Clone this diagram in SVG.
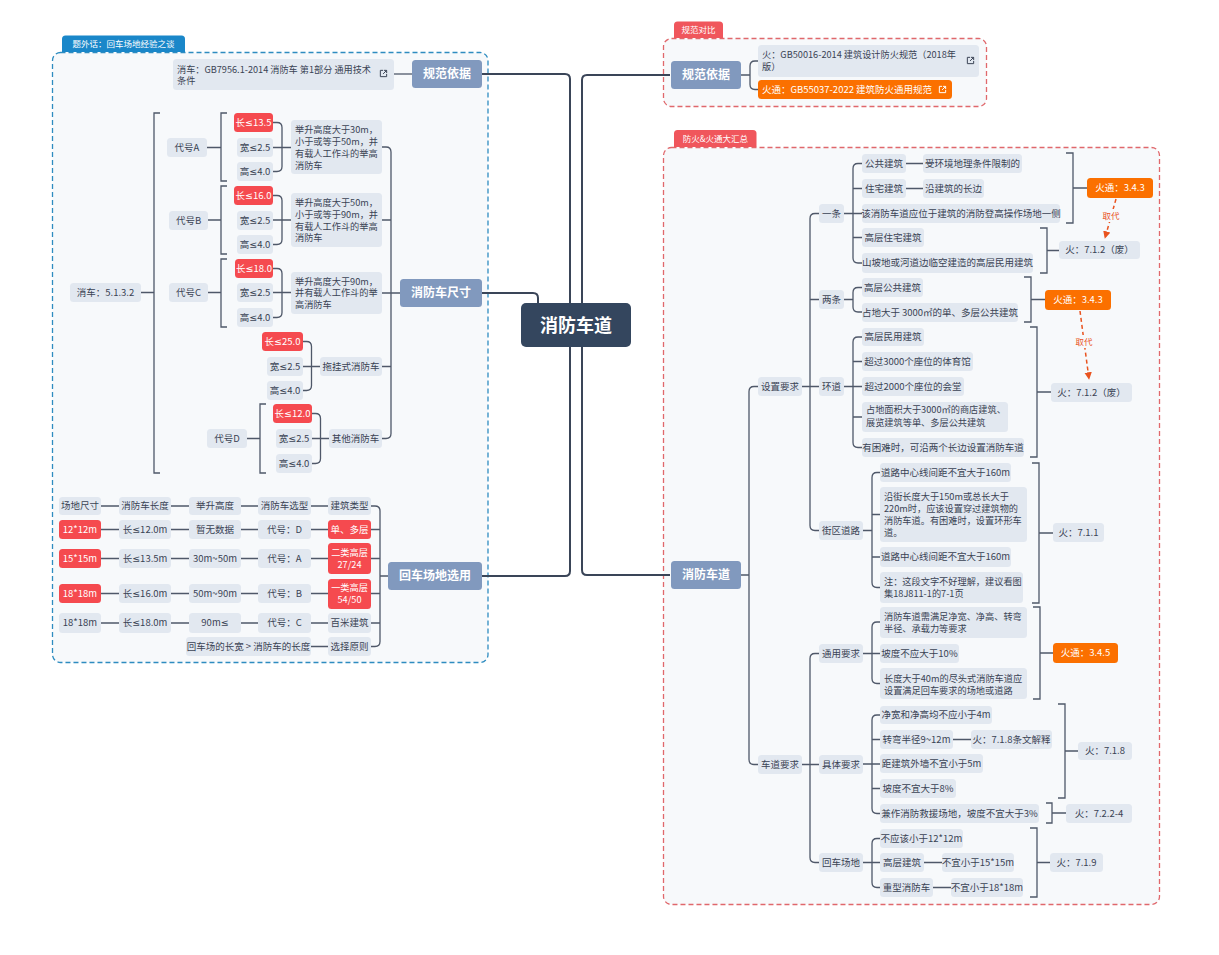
<svg xmlns="http://www.w3.org/2000/svg" xmlns:xlink="http://www.w3.org/1999/xlink" width="1219" height="955" viewBox="0 0 1219 955">
<style>
text{font-family:"Noto Sans CJK SC","Noto Sans",sans-serif;font-size:9.5px;fill:#3a4354}
.le{font-family:"Noto Sans","DejaVu Sans",sans-serif}
.ml{font-size:9.2px}
.c{text-anchor:middle}
.w{fill:#fff}
.b{font-weight:bold;font-size:12px;fill:#fff;text-anchor:middle}
.tab{font-size:8.5px;fill:#fff;text-anchor:middle}
rect.n,rect.r,rect.o,rect.m{rx:3.5px}
.n{fill:#e2e8f0}
.r{fill:#f54a4f}
.o{fill:#fb7000}
.m{fill:#8199be}
.ln{fill:none;stroke:#4f5869;stroke-width:1.3}
.mln{fill:none;stroke:#3a4558;stroke-width:2}
.arr{fill:none;stroke:#e9531f;stroke-width:1.5;stroke-dasharray:4 3}
</style>
<defs>
<symbol id="lnk" viewBox="0 0 10 10"><path d="M4.5 1.5H1.5V8.5H8.5V5.5M5.5 1.5H8.5V4.5M8.5 1.5L4.5 5.5" fill="none" stroke="currentColor" stroke-width="1.1"/></symbol>
<marker id="ah" viewBox="0 0 10 10" refX="9" refY="5" markerWidth="5" markerHeight="5" orient="auto"><path d="M0,0 L10,5 L0,10 z" fill="#e9531f"/></marker>
</defs>
<rect width="1219" height="955" fill="#fff"/>

<g id="boundaries">
<rect x="52.5" y="52.5" width="435.5" height="610" rx="8" fill="#f7f9fb" stroke="#2e8cc0" stroke-width="1.3" stroke-dasharray="5 3"/>
<path d="M62,52 V39 Q62,35.5 65.5,35.5 H181.5 Q185,35.5 185,39 V52 Z" fill="#1a87c9"/>
<text class="tab" x="123.5" y="46.5">题外话：回车场地经验之谈</text>
<rect x="663.5" y="38.5" width="323" height="68" rx="8" fill="#f7f9fb" stroke="#e0686c" stroke-width="1.3" stroke-dasharray="5 3"/>
<path d="M674,38 V25 Q674,21.5 677.5,21.5 H719.5 Q723,21.5 723,25 V38 Z" fill="#f0565c"/>
<text class="tab" x="698.5" y="33">规范对比</text>
<rect x="663.5" y="147.5" width="496" height="757" rx="8" fill="#f7f9fb" stroke="#e0686c" stroke-width="1.3" stroke-dasharray="5 3"/>
<path d="M674,147 V133.5 Q674,130 677.5,130 H753 Q756.5,130 756.5,133.5 V147 Z" fill="#f0565c"/>
<text class="tab" x="715.3" y="141.5">防火&amp;火通大汇总</text>
</g>

<g id="connectors">
<path class="mln" d="M482,74 H565 Q570,74 570,79 V571 Q570,576 565,576 H482"/>
<path class="mln" d="M482,293 H533 Q538,293 538,298 V304"/>
<path class="mln" d="M670,75 H587 Q582,75 582,80 V570 Q582,575 587,575 H670"/>
<path class="ln" d="M394,74 H412"/>
<path class="ln" d="M382,147 H386 Q391,147 391,152 V433.5 Q391,438.5 386,438.5 H382 M400,293 H382 M391,220 H382 M391,366.5 H382"/>
<path class="ln" d="M273,122.5 H277 Q282,122.5 282,127.5 V166.5 Q282,171.5 277,171.5 H273 M291,147.5 H273"/>
<path class="ln" d="M273,195.5 H277 Q282,195.5 282,200.5 V239.5 Q282,244.5 277,244.5 H273 M291,220 H273"/>
<path class="ln" d="M273,268.5 H277 Q282,268.5 282,273.5 V312.5 Q282,317.5 277,317.5 H273 M291,292.5 H273"/>
<path class="ln" d="M303,341.5 H306.5 Q311.5,341.5 311.5,346.5 V385.5 Q311.5,390.5 306.5,390.5 H303 M320,366.5 H303"/>
<path class="ln" d="M312,413.5 H315.5 Q320.5,413.5 320.5,418.5 V458.5 Q320.5,463.5 315.5,463.5 H312 M329,438.5 H312"/>
<path class="ln" d="M227,113 H221 V181 H227 M207,147.5 H221"/>
<path class="ln" d="M227,186 H221 V254 H227 M208,220 H221"/>
<path class="ln" d="M227,259 H221 V327 H227 M208,292.5 H221"/>
<path class="ln" d="M266,404 H260 V473 H266 M247,438.5 H260"/>
<path class="ln" d="M160,113 H154 V473 H160 M141,292.5 H154"/>
<path class="ln" d="M101,506 H119 M171,506 H189 M241,506 H258 M311,506 H328 M101,529.5 H119 M171,529.5 H189 M241,529.5 H258 M311,529.5 H328 M101,558.5 H119 M171,558.5 H189 M241,558.5 H258 M311,558.5 H328 M101,593.5 H119 M171,593.5 H189 M241,593.5 H258 M311,593.5 H328 M101,623 H119 M171,623 H189 M241,623 H258 M311,623 H328 M311,646.5 H328"/>
<path class="ln" d="M371,506 H375 Q380,506 380,511 V641.5 Q380,646.5 375,646.5 H371 M388,576 H380 M380,529.5 H371 M380,558.5 H371 M380,593.5 H371 M380,623 H371"/>
<path class="ln" d="M758,61 H755 Q750,61 750,66 V84.5 Q750,89.5 755,89.5 H758 M741,75 H750"/>
<path class="ln" d="M758,386.5 H754 Q749,386.5 749,391.5 V759.5 Q749,764.5 754,764.5 H758 M741,575 H749"/>
<path class="ln" d="M819,213.5 H815 Q810,213.5 810,218.5 V525.5 Q810,530.5 815,530.5 H819 M802,386.5 H819 M810,299.5 H819"/>
<path class="ln" d="M862,163.5 H858 Q853,163.5 853,168.5 V258 Q853,263 858,263 H862 M844,213.5 H862 M853,188.5 H862 M853,237.5 H862 M906,163.5 H923 M906,188.5 H923"/>
<path class="ln" d="M862,287.5 H858 Q853,287.5 853,292.5 V307 Q853,312 858,312 H862 M844,299.5 H853"/>
<path class="ln" d="M862,337 H858 Q853,337 853,342 V442.5 Q853,447.5 858,447.5 H862 M844,386.5 H862 M853,361.5 H862 M853,417 H862"/>
<path class="ln" d="M880,472.5 H877 Q872,472.5 872,477.5 V582.5 Q872,587.5 877,587.5 H880 M863,530.5 H872 M872,514.5 H880 M872,557 H880"/>
<path class="ln" d="M1066,153 H1073 V223 H1066 M1073,188 H1087"/>
<path class="ln" d="M1040,228 H1047 V273 H1040 M1047,250.5 H1059"/>
<path class="ln" d="M1024,277 H1031 V322 H1024 M1031,299.5 H1045"/>
<path class="ln" d="M1030,327 H1037 V457 H1030 M1037,392 H1051"/>
<path class="ln" d="M1032,463 H1039 V603 H1032 M1039,533 H1053"/>
<path class="ln" d="M819,653.5 H815 Q810,653.5 810,658.5 V857.5 Q810,862.5 815,862.5 H819 M802,764.5 H819"/>
<path class="ln" d="M880,622 H877 Q872,622 872,627 V678.5 Q872,683.5 877,683.5 H880 M863,653.5 H880"/>
<path class="ln" d="M1033,607 H1040 V699 H1033 M1040,653 H1053"/>
<path class="ln" d="M880,715 H877 Q872,715 872,720 V808.5 Q872,813.5 877,813.5 H880 M863,764 H880 M872,739.5 H880 M872,788.5 H880 M953,739.5 H971"/>
<path class="ln" d="M1058,704 H1065 V798 H1058 M1065,751 H1078"/>
<path class="ln" d="M1046,803 H1052 V823 H1046 M1052,813 H1066"/>
<path class="ln" d="M880,838.5 H877 Q872,838.5 872,843.5 V882.5 Q872,887.5 877,887.5 H880 M863,862.5 H880 M924,862.5 H942 M933,887.5 H951"/>
<path class="ln" d="M1030,828 H1037 V897 H1030 M1037,862.5 H1050"/>
<path class="arr" d="M1116,199 L1105,238" marker-end="url(#ah)"/>
<rect x="1100" y="209" width="22" height="13" fill="#f7f9fb"/>
<text class="c" x="1111" y="219" style="fill:#e9531f;font-size:8.5px">取代</text>
<path class="arr" d="M1080,311 L1089,379" marker-end="url(#ah)"/>
<rect x="1073" y="335" width="22" height="13" fill="#f7f9fb"/>
<text class="c" x="1084" y="345" style="fill:#e9531f;font-size:8.5px">取代</text>
</g>

<g id="center"><rect x="521" y="303" width="110" height="44" rx="5" fill="#34465e"/><text x="576" y="331.5" style="font-size:18px;font-weight:bold;fill:#fff;text-anchor:middle">消防车道</text></g>

<g id="L-ref"><rect class="m" x="412" y="60" width="70" height="28"/><text class="b" x="447" y="78.3">规范依据</text></g>
<g id="L-ref-1"><rect class="n" x="173" y="59" width="221" height="31"/><text class="ml" x="177" y="72.7"><tspan textLength="194" lengthAdjust="spacingAndGlyphs">消车：GB7956.1-2014 消防车 第1部分 通用技术</tspan><tspan x="177" dy="11.7">条件</tspan></text><use xlink:href="#lnk" x="379" y="69" width="9" height="9" color="#3a4354"/></g>
<g id="L-size"><rect class="m" x="400" y="279" width="82" height="28"/><text class="b" x="441" y="297.3">消防车尺寸</text></g>
<g id="L-turn"><rect class="m" x="388" y="562" width="94" height="28"/><text class="b" x="435" y="580.3">回车场地选用</text></g>
<g id="L-car"><rect class="n" x="70" y="283" width="71" height="19"/><text class="c" x="105.5" y="296">消车：5.1.3.2</text></g>
<g id="L-dA"><rect class="n" x="167" y="138" width="40" height="19"/><text class="c" x="187" y="151">代号A</text></g>
<g id="L-dB"><rect class="n" x="169" y="211" width="39" height="19"/><text class="c" x="188.5" y="224">代号B</text></g>
<g id="L-dC"><rect class="n" x="169" y="283" width="39" height="19"/><text class="c" x="188.5" y="296">代号C</text></g>
<g id="L-dD"><rect class="n" x="207" y="429" width="40" height="19"/><text class="c" x="227" y="442">代号D</text></g>
<g id="L-descA"><rect class="n" x="291" y="120" width="91" height="54"/><text class="ml" x="295" y="133.4">举升高度大于30m，<tspan x="295" dy="11.7">小于或等于50m，并</tspan><tspan x="295" dy="11.7">有载人工作斗的举高</tspan><tspan x="295" dy="11.7">消防车</tspan></text></g>
<g id="L-descB"><rect class="n" x="291" y="193" width="91" height="54"/><text class="ml" x="295" y="206.3">举升高度大于50m，<tspan x="295" dy="11.7">小于或等于90m，并</tspan><tspan x="295" dy="11.7">有载人工作斗的举高</tspan><tspan x="295" dy="11.7">消防车</tspan></text></g>
<g id="L-descC"><rect class="n" x="291" y="272" width="91" height="42"/><text class="ml" x="295" y="284.6">举升高度大于90m，<tspan x="295" dy="11.7">并有载人工作斗的举</tspan><tspan x="295" dy="11.7">高消防车</tspan></text></g>
<g id="L-tow"><rect class="n" x="320" y="357" width="62" height="19"/><text class="c" x="351" y="370">拖挂式消防车</text></g>
<g id="L-other"><rect class="n" x="329" y="429" width="53" height="19"/><text class="c" x="355.5" y="442">其他消防车</text></g>
<g id="L-A1"><rect class="r" x="234" y="113" width="39" height="19"/><text class="c w" x="253.5" y="126">长<tspan class="le">≤</tspan>13.5</text></g>
<g id="L-A2"><rect class="n" x="237" y="138" width="36" height="19"/><text class="c" x="255" y="151">宽<tspan class="le">≤</tspan>2.5</text></g>
<g id="L-A3"><rect class="n" x="237" y="162" width="36" height="19"/><text class="c" x="255" y="175">高<tspan class="le">≤</tspan>4.0</text></g>
<g id="L-B1"><rect class="r" x="234" y="186" width="39" height="19"/><text class="c w" x="253.5" y="199">长<tspan class="le">≤</tspan>16.0</text></g>
<g id="L-B2"><rect class="n" x="237" y="211" width="36" height="19"/><text class="c" x="255" y="224">宽<tspan class="le">≤</tspan>2.5</text></g>
<g id="L-B3"><rect class="n" x="237" y="235" width="36" height="19"/><text class="c" x="255" y="248">高<tspan class="le">≤</tspan>4.0</text></g>
<g id="L-C1"><rect class="r" x="235" y="259" width="38" height="19"/><text class="c w" x="254" y="272">长<tspan class="le">≤</tspan>18.0</text></g>
<g id="L-C2"><rect class="n" x="237" y="283" width="36" height="19"/><text class="c" x="255" y="296">宽<tspan class="le">≤</tspan>2.5</text></g>
<g id="L-C3"><rect class="n" x="237" y="308" width="36" height="19"/><text class="c" x="255" y="321">高<tspan class="le">≤</tspan>4.0</text></g>
<g id="L-T1"><rect class="r" x="262" y="332" width="41" height="19"/><text class="c w" x="282.5" y="345">长<tspan class="le">≤</tspan>25.0</text></g>
<g id="L-T2"><rect class="n" x="267" y="357" width="36" height="19"/><text class="c" x="285" y="370">宽<tspan class="le">≤</tspan>2.5</text></g>
<g id="L-T3"><rect class="n" x="267" y="381" width="36" height="19"/><text class="c" x="285" y="394">高<tspan class="le">≤</tspan>4.0</text></g>
<g id="L-D1"><rect class="r" x="273" y="404" width="39" height="19"/><text class="c w" x="292.5" y="417">长<tspan class="le">≤</tspan>12.0</text></g>
<g id="L-D2"><rect class="n" x="276" y="429" width="36" height="19"/><text class="c" x="294" y="442">宽<tspan class="le">≤</tspan>2.5</text></g>
<g id="L-D3"><rect class="n" x="276" y="454" width="36" height="19"/><text class="c" x="294" y="467">高<tspan class="le">≤</tspan>4.0</text></g>

<g id="T-row1">
<rect class="n" x="59" y="497" width="42" height="18"/><text class="c" x="80" y="509.4">场地尺寸</text>
<rect class="n" x="119" y="497" width="52" height="18"/><text class="c" x="145" y="509.4">消防车长度</text>
<rect class="n" x="189" y="497" width="52" height="18"/><text class="c" x="215" y="509.4">举升高度</text>
<rect class="n" x="258" y="497" width="53" height="18"/><text class="c" x="284.5" y="509.4">消防车选型</text>
<rect class="n" x="328" y="497" width="43" height="18"/><text class="c" x="349.5" y="509.4">建筑类型</text>
</g>
<g id="T-row2">
<rect class="r" x="59" y="520" width="42" height="19"/><text class="c w" x="80" y="533">12*12m</text>
<rect class="n" x="119" y="520" width="52" height="19"/><text class="c" x="145" y="533">长<tspan class="le">≤</tspan>12.0m</text>
<rect class="n" x="189" y="520" width="52" height="19"/><text class="c" x="215" y="533">暂无数据</text>
<rect class="n" x="258" y="520" width="53" height="19"/><text class="c" x="284.5" y="533">代号：D</text>
<rect class="r" x="328" y="520" width="43" height="19"/><text class="c w" x="349.5" y="533">单、多层</text>
</g>
<g id="T-row3">
<rect class="r" x="59" y="549" width="42" height="19"/><text class="c w" x="80" y="562">15*15m</text>
<rect class="n" x="119" y="549" width="52" height="19"/><text class="c" x="145" y="562">长<tspan class="le">≤</tspan>13.5m</text>
<rect class="n" x="189" y="549" width="52" height="19"/><text class="c" x="215" y="562">30m~50m</text>
<rect class="n" x="258" y="549" width="53" height="19"/><text class="c" x="284.5" y="562">代号：A</text>
<rect class="r" x="328" y="543" width="43" height="31"/><text class="c w ml" x="349.5" y="555.8">二类高层<tspan x="349.5" dy="12.2">27/24</tspan></text>
</g>
<g id="T-row4">
<rect class="r" x="59" y="584" width="42" height="19"/><text class="c w" x="80" y="597">18*18m</text>
<rect class="n" x="119" y="584" width="52" height="19"/><text class="c" x="145" y="597">长<tspan class="le">≤</tspan>16.0m</text>
<rect class="n" x="189" y="584" width="52" height="19"/><text class="c" x="215" y="597">50m~90m</text>
<rect class="n" x="258" y="584" width="53" height="19"/><text class="c" x="284.5" y="597">代号：B</text>
<rect class="r" x="328" y="579" width="43" height="30"/><text class="c w ml" x="349.5" y="591">一类高层<tspan x="349.5" dy="12.4">54/50</tspan></text>
</g>
<g id="T-row5">
<rect class="n" x="59" y="613" width="42" height="20"/><text class="c" x="80" y="626.4">18*18m</text>
<rect class="n" x="119" y="613" width="52" height="20"/><text class="c" x="145" y="626.4">长<tspan class="le">≤</tspan>18.0m</text>
<rect class="n" x="189" y="613" width="52" height="20"/><text class="c" x="215" y="626.4">90m<tspan class="le">≤</tspan></text>
<rect class="n" x="258" y="613" width="53" height="20"/><text class="c" x="284.5" y="626.4">代号：C</text>
<rect class="n" x="328" y="613" width="43" height="20"/><text class="c" x="349.5" y="626.4">百米建筑</text>
</g>
<g id="T-row6">
<rect class="n" x="186" y="637" width="125" height="19"/><text class="c" x="248.5" y="650">回车场的长宽 &gt; 消防车的长度</text>
<rect class="n" x="328" y="637" width="43" height="19"/><text class="c" x="349.5" y="650">选择原则</text>
</g>

<g id="R-ref"><rect class="m" x="671" y="61" width="70" height="28"/><text class="b" x="706" y="79.3">规范依据</text></g>
<g id="R-ref-1"><rect class="n" x="758" y="45" width="221" height="32"/><text class="ml" x="762" y="58.4"><tspan textLength="194" lengthAdjust="spacingAndGlyphs">火：GB50016-2014 建筑设计防火规范（2018年</tspan><tspan x="762" dy="11.7">版）</tspan></text><use xlink:href="#lnk" x="966" y="56" width="9" height="9" color="#3a4354"/></g>
<g id="R-ref-2"><rect class="o" x="758" y="80" width="194" height="19"/><text class="w" x="762" y="93.1" textLength="170" lengthAdjust="spacingAndGlyphs">火通：GB55037-2022 建筑防火通用规范</text><use xlink:href="#lnk" x="938" y="85" width="9" height="9" color="#ffffff"/></g>
<g id="R-main"><rect class="m" x="671" y="561" width="70" height="28"/><text class="b" x="706" y="579.3">消防车道</text></g>
<g id="R-set"><rect class="n" x="758" y="377" width="44" height="19"/><text class="c" x="780" y="390">设置要求</text></g>
<g id="R-lane"><rect class="n" x="758" y="755" width="44" height="19"/><text class="c" x="780" y="768">车道要求</text></g>
<g id="R-one"><rect class="n" x="819" y="204" width="25" height="19"/><text class="c" x="831.5" y="217">一条</text></g>
<g id="R-two"><rect class="n" x="819" y="290" width="25" height="19"/><text class="c" x="831.5" y="303">两条</text></g>
<g id="R-ring"><rect class="n" x="819" y="377" width="25" height="19"/><text class="c" x="831.5" y="390">环道</text></g>
<g id="R-block"><rect class="n" x="819" y="521" width="44" height="19"/><text class="c" x="841" y="534">街区道路</text></g>
<g id="R-one-1"><rect class="n" x="862" y="154" width="44" height="19"/><text class="c" x="884" y="167">公共建筑</text></g>
<g id="R-one-1a"><rect class="n" x="923" y="154" width="99" height="19"/><text class="c" x="972.5" y="167">受环境地理条件限制的</text></g>
<g id="R-one-2"><rect class="n" x="862" y="179" width="44" height="19"/><text class="c" x="884" y="192">住宅建筑</text></g>
<g id="R-one-2a"><rect class="n" x="923" y="179" width="61" height="19"/><text class="c" x="953.5" y="192">沿建筑的长边</text></g>
<g id="R-one-3"><rect class="n" x="862" y="204" width="198" height="19"/><text class="c" x="961" y="217">该消防车道应位于建筑的消防登高操作场地一侧</text></g>
<g id="R-one-4"><rect class="n" x="862" y="228" width="62" height="19"/><text class="c" x="893" y="241">高层住宅建筑</text></g>
<g id="R-one-5"><rect class="n" x="862" y="253" width="171" height="20"/><text class="c" x="947.5" y="266.4">山坡地或河道边临空建造的高层民用建筑</text></g>
<g id="R-hx343a"><rect class="o" x="1087" y="178" width="66" height="20"/><text class="c w" x="1120" y="191.4">火通：3.4.3</text></g>
<g id="R-h712a"><rect class="n" x="1059" y="241" width="81" height="18"/><text class="c" x="1099.5" y="253.4">火：7.1.2（废）</text></g>
<g id="R-two-1"><rect class="n" x="862" y="278" width="61" height="19"/><text class="c" x="892.5" y="291">高层公共建筑</text></g>
<g id="R-two-2"><rect class="n" x="862" y="303" width="156" height="19"/><text class="c" x="940" y="316">占地大于 3000㎡的单、多层公共建筑</text></g>
<g id="R-hx343b"><rect class="o" x="1045" y="290" width="66" height="20"/><text class="c w" x="1078" y="303.4">火通：3.4.3</text></g>
<g id="R-h712b"><rect class="n" x="1051" y="383" width="81" height="19"/><text class="c" x="1091.5" y="396">火：7.1.2（废）</text></g>
<g id="R-ring-1"><rect class="n" x="862" y="328" width="62" height="18"/><text class="c" x="893" y="340.4">高层民用建筑</text></g>
<g id="R-ring-2"><rect class="n" x="862" y="352" width="111" height="19"/><text class="c" x="917.5" y="365">超过3000个座位的体育馆</text></g>
<g id="R-ring-3"><rect class="n" x="862" y="377" width="102" height="19"/><text class="c" x="913" y="390">超过2000个座位的会堂</text></g>
<g id="R-ring-4"><rect class="n" x="862" y="402" width="146" height="30"/><text class="ml" x="866" y="412.7">占地面积大于3000㎡的商店建筑、<tspan x="866" dy="13.3">展览建筑等单、多层公共建筑</tspan></text></g>
<g id="R-ring-5"><rect class="n" x="862" y="438" width="162" height="19"/><text class="c" x="943" y="451">有困难时，可沿两个长边设置消防车道</text></g>
<g id="R-block-1"><rect class="n" x="880" y="463" width="131" height="19"/><text class="c" x="945.5" y="476">道路中心线间距不宜大于160m</text></g>
<g id="R-block-2"><rect class="n" x="880" y="487" width="147" height="55"/><text class="ml" x="884" y="500">沿街长度大于150m或总长大于<tspan x="884" dy="12">220m时，应该设置穿过建筑物的</tspan><tspan x="884" dy="12">消防车道。有困难时，设置环形车</tspan><tspan x="884" dy="11.8">道。</tspan></text></g>
<g id="R-block-3"><rect class="n" x="880" y="547" width="131" height="20"/><text class="c" x="945.5" y="560.4">道路中心线间距不宜大于160m</text></g>
<g id="R-block-4"><rect class="n" x="880" y="572" width="143" height="31"/><text class="ml" x="884" y="585">注：这段文字不好理解，建议看图<tspan x="884" dy="12.4">集18J811-1的7-1页</tspan></text></g>
<g id="R-h711"><rect class="n" x="1053" y="523" width="51" height="19"/><text class="c" x="1078.5" y="536">火：7.1.1</text></g>
<g id="R-gen"><rect class="n" x="819" y="644" width="44" height="19"/><text class="c" x="841" y="657">通用要求</text></g>
<g id="R-spec"><rect class="n" x="819" y="755" width="44" height="19"/><text class="c" x="841" y="768">具体要求</text></g>
<g id="R-turn"><rect class="n" x="819" y="853" width="44" height="19"/><text class="c" x="841" y="866">回车场地</text></g>
<g id="R-gen-1"><rect class="n" x="880" y="607" width="147" height="31"/><text class="ml" x="884" y="620">消防车道需满足净宽、净高、转弯<tspan x="884" dy="12.4">半径、承载力等要求</tspan></text></g>
<g id="R-gen-2"><rect class="n" x="880" y="644" width="79" height="19"/><text class="c" x="919.5" y="657">坡度不应大于10%</text></g>
<g id="R-gen-3"><rect class="n" x="880" y="668" width="147" height="31"/><text class="ml" x="884" y="681.7">长度大于40m的尽头式消防车道应<tspan x="884" dy="11.8">设置满足回车要求的场地或道路</tspan></text></g>
<g id="R-hx345"><rect class="o" x="1053" y="643" width="65" height="20"/><text class="c w" x="1085.5" y="656.4">火通：3.4.5</text></g>
<g id="R-spec-1"><rect class="n" x="880" y="706" width="112" height="18"/><text class="c" x="936" y="718.4">净宽和净高均不应小于4m</text></g>
<g id="R-spec-2"><rect class="n" x="880" y="730" width="73" height="19"/><text class="c" x="916.5" y="743">转弯半径9~12m</text></g>
<g id="R-spec-2a"><rect class="n" x="971" y="730" width="81" height="19"/><text class="c" x="1011.5" y="743">火：7.1.8条文解释</text></g>
<g id="R-spec-3"><rect class="n" x="880" y="754" width="103" height="19"/><text class="c" x="931.5" y="767">距建筑外墙不宜小于5m</text></g>
<g id="R-spec-4"><rect class="n" x="880" y="779" width="76" height="19"/><text class="c" x="918" y="792">坡度不宜大于8%</text></g>
<g id="R-spec-5"><rect class="n" x="880" y="804" width="159" height="19"/><text class="c" x="959.5" y="817">兼作消防救援场地，坡度不宜大于3%</text></g>
<g id="R-h718"><rect class="n" x="1078" y="742" width="54" height="18"/><text class="c" x="1105" y="754.4">火：7.1.8</text></g>
<g id="R-h7224"><rect class="n" x="1066" y="804" width="66" height="19"/><text class="c" x="1099" y="817">火：7.2.2-4</text></g>
<g id="R-turn-1"><rect class="n" x="880" y="829" width="83" height="19"/><text class="c" x="921.5" y="842">不应该小于12*12m</text></g>
<g id="R-turn-2"><rect class="n" x="880" y="853" width="44" height="19"/><text class="c" x="902" y="866">高层建筑</text></g>
<g id="R-turn-2a"><rect class="n" x="942" y="853" width="72" height="19"/><text class="c" x="978" y="866">不宜小于15*15m</text></g>
<g id="R-turn-3"><rect class="n" x="880" y="878" width="53" height="19"/><text class="c" x="906.5" y="891">重型消防车</text></g>
<g id="R-turn-3a"><rect class="n" x="951" y="878" width="72" height="19"/><text class="c" x="987" y="891">不宜小于18*18m</text></g>
<g id="R-h719"><rect class="n" x="1050" y="853" width="53" height="19"/><text class="c" x="1076.5" y="866">火：7.1.9</text></g>
</svg>
